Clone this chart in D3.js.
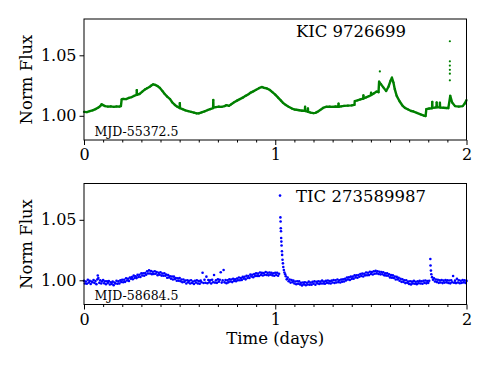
<!DOCTYPE html>
<meta charset="utf-8">
<html>
<head>
<style>
  body { margin: 0; background: #fff; }
  text { font-family: "DejaVu Serif", serif; fill: #000; }
</style>
</head>
<body>
<div id="chartContainer"></div>
<script src="https://cdn.jsdelivr.net/npm/d3@7"></script>
<script type="text/javascript">
// ---- data ----
var panelNames = ["KIC 9726699", "TIC 273589987"];
var panelEpochs = ["MJD-55372.5", "MJD-58684.5"];
var xTicks = [0, 1, 2];
var yTicks = [1.00, 1.05];
var xDomain = [0, 2];
var yDomain = [0.98, 1.08];

// Kepler light curve (time in days, normalised flux)
var keplerCurve = [
  [0.000,1.0032],[0.015,1.0030],[0.030,1.0038],[0.045,1.0045],[0.060,1.0055],[0.075,1.0068],[0.085,1.0080],
  [0.092,1.0095],[0.100,1.0088],[0.110,1.0080],[0.125,1.0076],[0.140,1.0078],[0.155,1.0074],[0.170,1.0077],
  [0.185,1.0076],[0.193,1.0080],[0.197,1.0135],[0.205,1.0140],[0.220,1.0138],[0.235,1.0148],[0.250,1.0155],
  [0.262,1.0165],[0.275,1.0172],[0.276,1.0212],[0.277,1.0174],[0.290,1.0180],[0.305,1.0200],[0.319,1.0218],
  [0.330,1.0228],[0.342,1.0238],[0.352,1.0250],[0.362,1.0260],[0.372,1.0255],[0.385,1.0245],[0.397,1.0230],
  [0.410,1.0205],[0.422,1.0180],[0.435,1.0158],[0.450,1.0138],[0.462,1.0110],[0.475,1.0090],[0.488,1.0075],
  [0.500,1.0064],[0.501,1.0105],[0.502,1.0064],[0.515,1.0055],[0.530,1.0045],[0.545,1.0038],[0.560,1.0032],
  [0.575,1.0026],[0.589,1.0020],[0.600,1.0020],[0.615,1.0028],[0.630,1.0036],[0.645,1.0046],[0.660,1.0055],
  [0.675,1.0064],[0.676,1.0130],[0.677,1.0068],[0.690,1.0072],[0.705,1.0076],[0.720,1.0074],[0.735,1.0080],
  [0.745,1.0088],[0.758,1.0082],[0.770,1.0095],[0.785,1.0112],[0.800,1.0125],[0.815,1.0138],[0.830,1.0150],
  [0.845,1.0165],[0.860,1.0178],[0.872,1.0192],[0.885,1.0202],[0.900,1.0215],[0.915,1.0228],[0.929,1.0238],
  [0.940,1.0232],[0.955,1.0226],[0.970,1.0215],[0.985,1.0195],[1.000,1.0175],[1.015,1.0150],[1.030,1.0125],
  [1.042,1.0105],[1.055,1.0090],[1.070,1.0075],[1.085,1.0062],[1.100,1.0052],[1.111,1.0050],[1.125,1.0046],
  [1.140,1.0042],[1.155,1.0042],[1.156,1.0075],[1.157,1.0040],[1.170,1.0035],[1.171,1.0060],[1.172,1.0032],
  [1.185,1.0026],[1.200,1.0022],[1.210,1.0024],[1.220,1.0032],[1.235,1.0048],[1.250,1.0065],[1.268,1.0075],
  [1.285,1.0076],[1.300,1.0074],[1.315,1.0077],[1.330,1.0075],[1.331,1.0100],[1.332,1.0074],[1.345,1.0078],
  [1.360,1.0082],[1.380,1.0084],[1.400,1.0086],[1.414,1.0090],[1.416,1.0122],[1.430,1.0128],[1.445,1.0135],
  [1.460,1.0142],[1.461,1.0168],[1.462,1.0144],[1.475,1.0152],[1.490,1.0162],[1.500,1.0170],[1.501,1.0190],
  [1.502,1.0172],[1.515,1.0185],[1.530,1.0200],[1.540,1.0195],[1.543,1.0282],[1.552,1.0262],[1.565,1.0235],
  [1.580,1.0205],[1.592,1.0240],[1.603,1.0290],[1.610,1.0315],[1.618,1.0275],[1.625,1.0220],[1.635,1.0165],
  [1.650,1.0120],[1.665,1.0085],[1.678,1.0066],[1.695,1.0052],[1.710,1.0040],[1.721,1.0036],[1.740,1.0025],
  [1.760,1.0012],[1.777,1.0002],[1.786,0.9998],[1.790,1.0055],[1.805,1.0060],[1.820,1.0062],[1.821,1.0115],
  [1.822,1.0065],[1.835,1.0068],[1.843,1.0072],[1.844,1.0110],[1.845,1.0070],[1.860,1.0072],[1.861,1.0108],
  [1.862,1.0068],[1.880,1.0066],[1.895,1.0064],[1.905,1.0063],[1.915,1.0165],[1.925,1.0110],[1.940,1.0080],
  [1.960,1.0076],[1.980,1.0080],[1.990,1.0100],[2.000,1.0130]
];
// isolated Kepler points (flare at ~1.91 d and a stray point)
var keplerDots = [
  [1.547,1.0367],[1.913,1.0616],[1.913,1.0450],[1.913,1.0415],[1.913,1.0380],[1.913,1.0348],[1.913,1.0293]
];

// TESS light curve (time in days, normalised flux)
var tessPoints = [
  [0.000,0.9996],[0.005,0.9974],[0.010,0.9990],[0.015,0.9971],[0.020,1.0005],[0.025,0.9981],[0.030,0.9995],
  [0.035,0.9970],[0.040,0.9990],[0.045,0.9984],[0.050,1.0002],[0.055,0.9978],[0.060,0.9994],[0.065,0.9968],
  [0.070,1.0008],[0.072,1.0040],[0.075,1.0018],[0.080,0.9979],[0.085,0.9999],[0.090,0.9973],[0.095,0.9991],
  [0.100,1.0003],[0.105,0.9976],[0.110,0.9992],[0.115,0.9967],[0.120,0.9992],[0.125,0.9979],[0.130,0.9994],
  [0.135,0.9965],[0.140,0.9984],[0.145,0.9969],[0.150,0.9989],[0.155,0.9960],[0.160,0.9981],[0.165,0.9973],
  [0.170,0.9996],[0.175,0.9971],[0.180,0.9991],[0.185,0.9973],[0.190,0.9999],[0.195,0.9986],[0.200,1.0004],
  [0.205,0.9984],[0.210,1.0004],[0.215,0.9987],[0.220,1.0017],[0.225,0.9998],[0.230,1.0013],[0.235,0.9995],
  [0.240,1.0023],[0.245,1.0013],[0.250,1.0026],[0.255,1.0009],[0.260,1.0039],[0.265,1.0020],[0.270,1.0033],
  [0.275,1.0018],[0.280,1.0045],[0.285,1.0028],[0.290,1.0046],[0.295,1.0027],[0.300,1.0057],[0.305,1.0040],
  [0.310,1.0058],[0.315,1.0038],[0.320,1.0059],[0.325,1.0046],[0.330,1.0074],[0.335,1.0056],[0.340,1.0082],
  [0.345,1.0056],[0.350,1.0076],[0.355,1.0051],[0.360,1.0071],[0.365,1.0052],[0.370,1.0075],[0.375,1.0054],
  [0.380,1.0068],[0.385,1.0042],[0.390,1.0061],[0.395,1.0047],[0.400,1.0066],[0.405,1.0039],[0.410,1.0056],
  [0.415,1.0037],[0.420,1.0058],[0.425,1.0037],[0.430,1.0047],[0.435,1.0021],[0.440,1.0043],[0.445,1.0023],
  [0.450,1.0033],[0.455,1.0013],[0.460,1.0032],[0.465,1.0007],[0.470,1.0030],[0.475,1.0010],[0.480,1.0018],
  [0.485,0.9996],[0.490,1.0017],[0.495,0.9997],[0.500,1.0018],[0.505,0.9992],[0.510,1.0007],[0.515,0.9984],
  [0.520,1.0007],[0.525,0.9987],[0.530,0.9998],[0.535,0.9974],[0.540,1.0001],[0.545,0.9983],[0.550,0.9996],
  [0.555,0.9974],[0.560,1.0000],[0.565,0.9978],[0.570,0.9990],[0.575,0.9969],[0.580,0.9996],[0.585,0.9981],
  [0.590,1.0000],[0.595,0.9974],[0.600,0.9993],[0.605,0.9971],[0.610,0.9997],[0.615,0.9984],[0.620,1.0062],
  [0.625,0.9978],[0.630,1.0004],[0.635,0.9980],[0.640,1.0030],[0.645,0.9976],[0.650,1.0002],[0.655,0.9984],
  [0.660,0.9999],[0.665,0.9974],[0.670,1.0005],[0.675,0.9984],[0.680,1.0044],[0.685,0.9981],[0.690,1.0001],
  [0.695,0.9979],[0.700,1.0009],[0.705,0.9989],[0.710,1.0004],[0.715,1.0066],[0.720,0.9981],[0.725,0.9999],
  [0.730,1.0085],[0.735,0.9983],[0.740,1.0003],[0.745,0.9976],[0.750,0.9999],[0.755,0.9983],[0.760,1.0008],
  [0.765,0.9990],[0.770,1.0006],[0.775,0.9985],[0.780,1.0013],[0.785,0.9994],[0.790,1.0008],[0.795,0.9992],
  [0.800,1.0015],[0.805,1.0000],[0.810,1.0023],[0.815,1.0001],[0.820,1.0019],[0.825,1.0002],[0.830,1.0028],
  [0.835,1.0014],[0.840,1.0029],[0.845,1.0008],[0.850,1.0037],[0.855,1.0019],[0.860,1.0035],[0.865,1.0019],
  [0.870,1.0047],[0.875,1.0031],[0.880,1.0046],[0.885,1.0025],[0.890,1.0051],[0.895,1.0036],[0.900,1.0057],
  [0.905,1.0036],[0.910,1.0055],[0.915,1.0035],[0.920,1.0064],[0.925,1.0044],[0.930,1.0061],[0.935,1.0040],
  [0.940,1.0060],[0.945,1.0045],[0.950,1.0068],[0.955,1.0044],[0.960,1.0061],[0.965,1.0041],[0.970,1.0065],
  [0.975,1.0047],[0.980,1.0063],[0.985,1.0041],[0.990,1.0058],[0.995,1.0037],[1.000,1.0062],[1.005,1.0044],
  [1.010,1.0063],[1.015,1.0037],[1.020,1.0054],
  [1.025,1.0700],[1.027,1.0520],[1.028,1.0486],[1.029,1.0430],[1.030,1.0405],[1.031,1.0350],[1.032,1.0320],
  [1.033,1.0287],[1.035,1.0240],[1.036,1.0210],[1.038,1.0170],[1.040,1.0140],[1.042,1.0110],[1.045,1.0085],
  [1.048,1.0065],[1.052,1.0050],
  [1.055,1.0033],[1.060,1.0008],[1.065,1.0022],[1.070,0.9992],[1.075,1.0007],[1.080,0.9981],[1.085,1.0002],
  [1.090,0.9984],[1.095,0.9997],[1.100,0.9973],[1.105,0.9990],[1.110,0.9967],[1.115,0.9992],[1.120,0.9971],
  [1.125,0.9991],[1.130,0.9966],[1.135,0.9980],[1.140,0.9958],[1.145,0.9982],[1.150,0.9966],[1.155,0.9984],
  [1.160,0.9959],[1.165,0.9980],[1.170,0.9965],[1.175,0.9989],[1.180,0.9964],[1.185,0.9982],[1.190,0.9964],
  [1.195,0.9987],[1.200,0.9971],[1.205,0.9991],[1.210,0.9964],[1.215,0.9988],[1.220,0.9975],[1.225,0.9992],
  [1.230,0.9969],[1.235,0.9989],[1.240,0.9973],[1.245,0.9997],[1.250,0.9973],[1.255,0.9989],[1.260,0.9971],
  [1.265,0.9995],[1.270,0.9979],[1.275,0.9998],[1.280,0.9976],[1.285,0.9993],[1.290,0.9973],[1.295,0.9997],
  [1.300,0.9982],[1.305,1.0002],[1.310,0.9978],[1.315,0.9999],[1.320,0.9982],[1.325,1.0007],[1.330,0.9985],
  [1.335,1.0000],[1.340,0.9982],[1.345,1.0006],[1.350,0.9989],[1.355,1.0009],[1.360,0.9990],[1.365,1.0013],
  [1.370,0.9999],[1.375,1.0023],[1.380,1.0006],[1.385,1.0024],[1.390,1.0003],[1.395,1.0030],[1.400,1.0012],
  [1.405,1.0030],[1.410,1.0013],[1.415,1.0041],[1.420,1.0024],[1.425,1.0041],[1.430,1.0021],[1.435,1.0044],
  [1.440,1.0029],[1.445,1.0052],[1.450,1.0036],[1.455,1.0055],[1.460,1.0031],[1.465,1.0054],[1.470,1.0041],
  [1.475,1.0064],[1.480,1.0042],[1.485,1.0062],[1.490,1.0043],[1.495,1.0071],[1.500,1.0052],[1.505,1.0068],
  [1.510,1.0048],[1.515,1.0074],[1.520,1.0054],[1.525,1.0078],[1.530,1.0057],[1.535,1.0074],[1.540,1.0052],
  [1.545,1.0070],[1.550,1.0049],[1.555,1.0069],[1.560,1.0050],[1.565,1.0066],[1.570,1.0041],[1.575,1.0057],
  [1.580,1.0039],[1.585,1.0058],[1.590,1.0037],[1.595,1.0050],[1.600,1.0024],[1.605,1.0043],[1.610,1.0022],
  [1.615,1.0041],[1.620,1.0019],[1.625,1.0032],[1.630,1.0007],[1.635,1.0028],[1.640,1.0008],[1.645,1.0021],
  [1.650,0.9996],[1.655,1.0013],[1.660,0.9987],[1.665,1.0008],[1.670,0.9986],[1.675,1.0000],[1.680,0.9977],
  [1.685,1.0000],[1.690,0.9979],[1.695,0.9989],[1.700,0.9970],[1.705,0.9992],[1.710,0.9966],[1.715,0.9989],
  [1.720,0.9973],[1.725,0.9995],[1.730,0.9971],[1.735,0.9988],[1.740,0.9968],[1.745,0.9991],[1.750,0.9976],
  [1.755,0.9995],[1.760,0.9974],[1.765,0.9992],[1.770,0.9972],[1.775,0.9996],[1.780,0.9979],[1.785,0.9998],
  [1.790,0.9975],[1.795,0.9994],[1.800,0.9979],[1.805,0.9996],
  [1.811,1.0176],[1.812,1.0122],[1.814,1.0080],[1.816,1.0050],
  [1.820,1.0026],[1.825,1.0004],[1.830,1.0016],[1.835,0.9990],[1.840,1.0007],[1.845,0.9985],[1.850,1.0004],
  [1.855,0.9979],[1.860,0.9999],[1.865,0.9982],[1.870,1.0002],[1.875,0.9977],[1.880,0.9997],[1.885,0.9981],
  [1.890,1.0003],[1.895,0.9983],[1.900,0.9999],[1.905,0.9978],[1.910,0.9998],[1.915,0.9975],[1.920,1.0001],
  [1.925,0.9984],[1.930,1.0036],[1.935,0.9980],[1.940,0.9997],[1.945,0.9977],[1.950,1.0012],[1.955,0.9982],
  [1.960,1.0000],[1.965,0.9976],[1.970,0.9996],[1.975,0.9979],[1.980,1.0002],[1.985,0.9983],[1.990,0.9999],
  [1.995,0.9978],[2.000,0.9995]
];

var W = 490, H = 368;
var svg = d3.select("#chartContainer").append("svg")
  .attr("width", W).attr("height", H);

var left = 84, right = 466.5;
var panels = [
  { top: 19, bottom: 140, name: panelNames[0], epoch: panelEpochs[0], titleX: 351 },
  { top: 183.5, bottom: 304.5, name: panelNames[1], epoch: panelEpochs[1], titleX: 361 }
];

var x = d3.scaleLinear().domain(xDomain).range([left, right]);
var minorTicks = d3.range(1, 20).map(function (d) { return d / 10; })
  .filter(function (d) { return xTicks.indexOf(d) < 0; });

panels.forEach(function (p, i) {
  var y = d3.scaleLinear().domain(yDomain).range([p.bottom, p.top]);
  var g = svg.append("g");

  // data
  var plot = g.append("g");
  if (i === 0) {
    var line = d3.line()
      .x(function (d) { return x(d[0]); })
      .y(function (d) { return y(d[1]); });
    plot.append("path")
      .datum(keplerCurve)
      .attr("d", line)
      .attr("fill", "none")
      .attr("stroke", "#008000")
      .attr("stroke-width", 2.4)
      .attr("stroke-linejoin", "round");
    plot.selectAll("circle.k")
      .data(keplerCurve.concat(keplerDots))
      .enter().append("circle")
      .attr("cx", function (d) { return x(d[0]); })
      .attr("cy", function (d) { return y(d[1]); })
      .attr("r", 1.1)
      .attr("fill", "#008000");
  } else {
    plot.selectAll("circle.t")
      .data(tessPoints)
      .enter().append("circle")
      .attr("cx", function (d) { return x(d[0]); })
      .attr("cy", function (d) { return y(d[1]); })
      .attr("r", 1.3)
      .attr("fill", "#0000ff");
  }

  // axes
  var xAxis = d3.axisBottom(x).tickValues(xTicks).tickFormat(d3.format("d"))
    .tickSize(5).tickPadding(4);
  var gx = g.append("g").attr("transform", "translate(0," + p.bottom + ")").call(xAxis);
  gx.select(".domain").remove();
  gx.selectAll("text").attr("font-size", 16).attr("font-family", "DejaVu Serif");
  gx.selectAll("line").attr("stroke", "#000");

  g.append("g").attr("transform", "translate(0," + p.bottom + ")")
    .call(d3.axisBottom(x).tickValues(minorTicks).tickSize(2.5).tickFormat(""))
    .call(function (s) { s.select(".domain").remove(); });

  var yAxis = d3.axisLeft(y).tickValues(yTicks).tickFormat(d3.format(".2f"))
    .tickSize(4.5).tickPadding(3);
  var gy = g.append("g").attr("transform", "translate(" + left + ",0)").call(yAxis);
  gy.select(".domain").remove();
  gy.selectAll("text").attr("font-size", 16).attr("font-family", "DejaVu Serif");

  // frame
  g.append("rect")
    .attr("x", left).attr("y", p.top)
    .attr("width", right - left).attr("height", p.bottom - p.top)
    .attr("fill", "none").attr("stroke", "#000").attr("stroke-width", 1);

  g.append("text")
    .attr("x", p.titleX).attr("y", p.top + 18)
    .attr("text-anchor", "middle")
    .attr("font-size", 16.5)
    .text(p.name);

  g.append("text")
    .attr("x", left + 10.5).attr("y", p.bottom - 4.5)
    .attr("font-size", 12.5)
    .text(p.epoch);

  g.append("text")
    .attr("transform", "translate(31.5," + (p.top + p.bottom) / 2 + ") rotate(-90)")
    .attr("text-anchor", "middle")
    .attr("font-size", 16.5)
    .text("Norm Flux");
});

svg.append("text")
  .attr("x", (left + right) / 2).attr("y", 343.5)
  .attr("text-anchor", "middle")
  .attr("font-size", 16.5)
  .text("Time (days)");
</script>
</body>
</html>
